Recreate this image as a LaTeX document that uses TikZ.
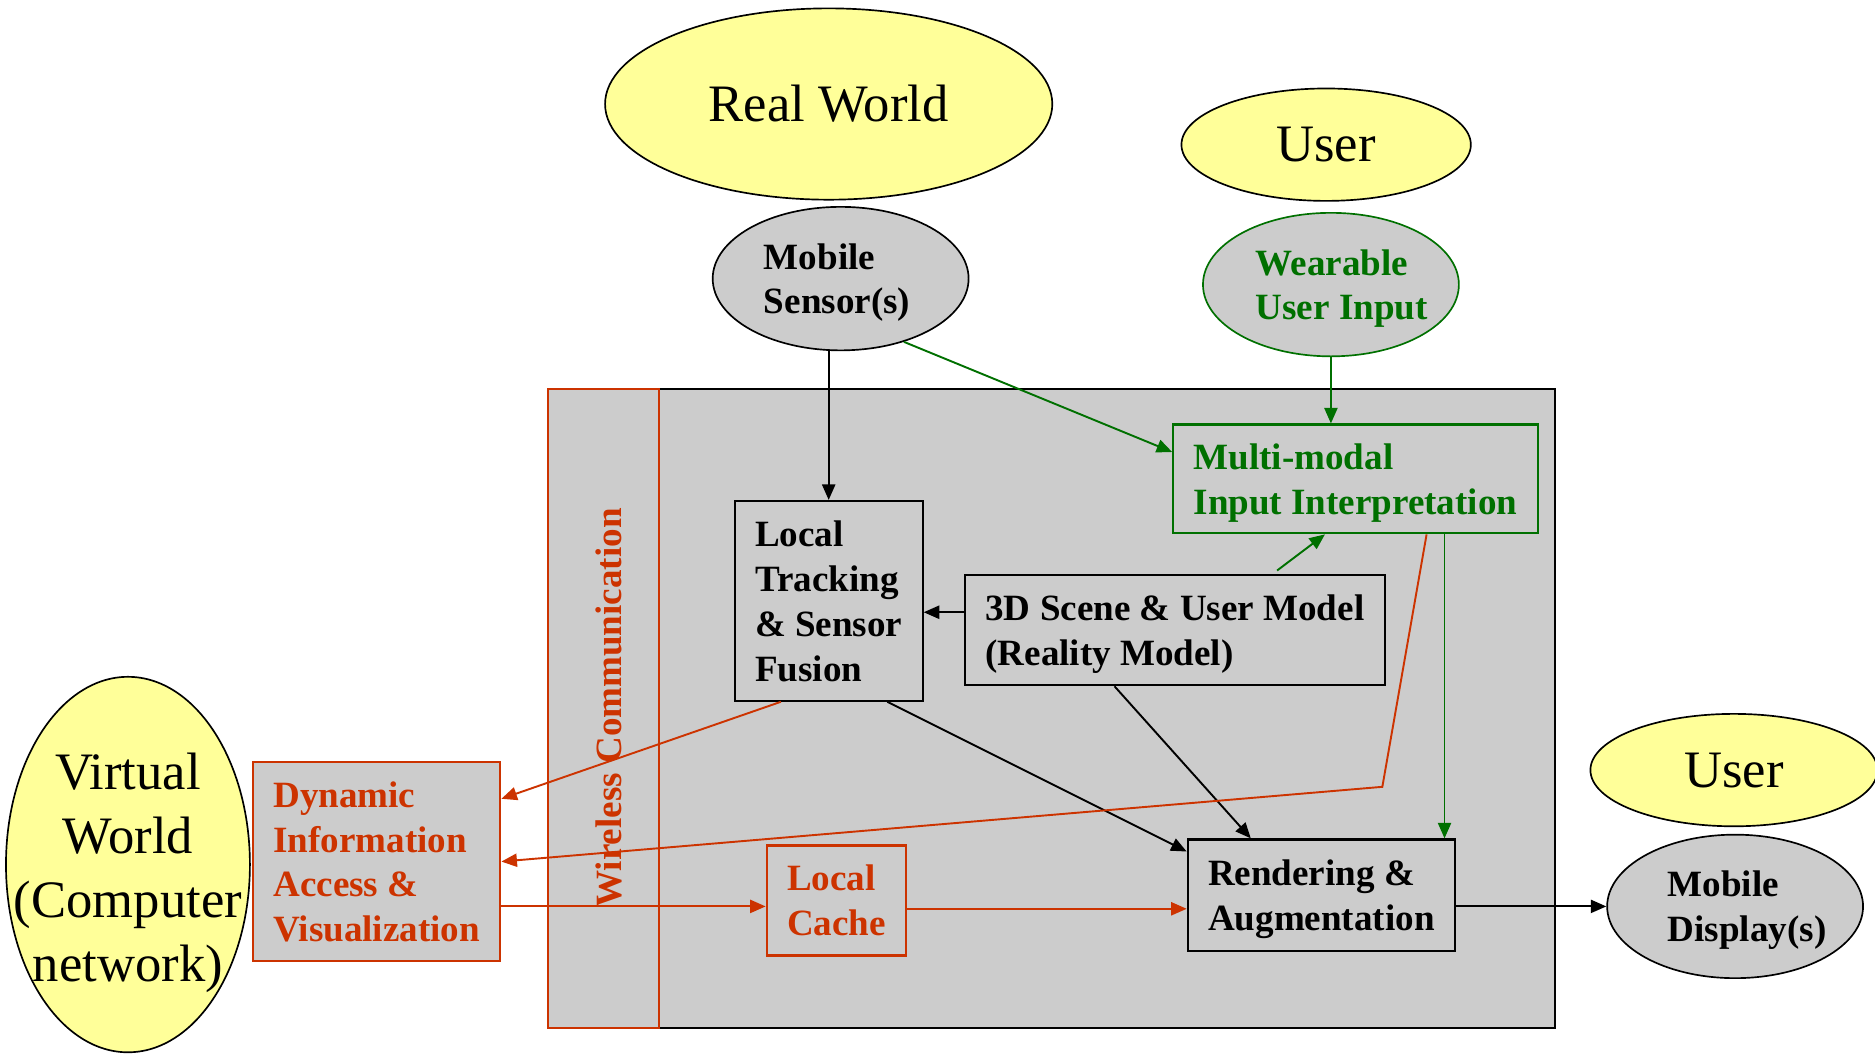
\documentclass[tikz,border=0pt]{standalone}
\usepackage{fontspec}
\setmainfont{Liberation Serif}
\usetikzlibrary{positioning, calc, shapes.geometric, arrows.meta}
\definecolor{dreamyellow}{RGB}{255,255,153}
\definecolor{panelgray}{RGB}{204,204,204}
\definecolor{wirered}{RGB}{204,51,0}
\definecolor{inputgreen}{RGB}{0,112,0}
\newcommand{\bigfont}{\fontsize{22pt}{26.75pt}\selectfont}
\newcommand{\boxfont}{\fontsize{15.5pt}{18.75pt}\selectfont\bfseries}

\begin{document}
\begin{tikzpicture}
		[x=0.5pt, y=-0.5pt,
		 world/.style = {ellipse, draw=black, fill=dreamyellow, inner sep=0pt, font=\bigfont, line width=0.7pt},
		 device/.style = {ellipse, draw=black, fill=panelgray, inner sep=0pt, line width=0.7pt},
		 devtext/.style = {align=left, font=\boxfont, text depth=0pt},
		 procbox/.style = {rectangle, draw=black, fill=panelgray, inner xsep=8.5pt, inner ysep=0pt, text depth=0pt, align=left, font=\boxfont, line width=0.9pt},
		 flow/.style = {-{Triangle[length=6.5pt, width=5.5pt]}, line width=0.8pt}]
		\useasboundingbox (0,0) rectangle (1568,881);
		
		% system panel and wireless strip
		\filldraw[fill=panelgray, draw=black, line width=0.8pt] (551,325) rectangle (1300,860);
		\filldraw[fill=panelgray, draw=wirered, line width=0.8pt] (458,325) rectangle (551,860);
		\node[rotate=90, text=wirered, font=\boxfont] (wlan) at (509,592) {Wireless Communication};
		
		% worlds and users
		\node[world, minimum width=187pt, minimum height=80pt] (real) at (693,87) {Real World};
		\node[world, minimum width=121pt, minimum height=47pt] (user) at (1109,121) {User};
		\node[world, minimum width=102pt, minimum height=157pt,
			label={[align=center, font=\bigfont, yshift=-3.5pt]center:{Virtual\\World\\(Computer\\network)}}] (virtual) at (107,723) {};
		\node[world, minimum width=120pt, minimum height=47pt] (viewer) at (1450,644) {User};
		
		% devices
		\node[device, minimum width=107pt, minimum height=60pt,
			label={[devtext, xshift=-1.5pt]center:{Mobile\\Sensor(s)}}] (sensor) at (703,233) {};
		\node[device, draw=inputgreen, minimum width=107pt, minimum height=60pt,
			label={[devtext, text=inputgreen, xshift=4.5pt]center:{Wearable\\User Input}}] (wearable) at (1113,238) {};
		\node[device, minimum width=107pt, minimum height=60pt,
			label={[devtext, xshift=5pt]center:{Mobile\\Display(s)}}] (display) at (1451,758) {};
		
		% processing boxes
		\node[procbox, minimum height=83.5pt] (tracking) at (693,502.5) {Local\\Tracking\\\& Sensor\\Fusion};
		\node[procbox, minimum height=46pt] (scene) at (982.5,527) {3D Scene \& User Model\\(Reality Model)};
		\node[procbox, draw=inputgreen, text=inputgreen, minimum height=45.5pt] (multimodal) at (1133.5,400.5) {Multi-modal\\Input Interpretation};
		\node[procbox, minimum height=46.5pt] (render) at (1105,748.5) {Rendering \&\\Augmentation};
		\node[procbox, draw=wirered, text=wirered, minimum height=46pt] (cache) at (699.5,753) {Local\\Cache};
		\node[procbox, draw=wirered, text=wirered, minimum height=83.5pt] (dynamic) at (315,720.5) {Dynamic\\Information\\Access \&\\Visualization};
		
		% black flows
		\draw[flow] (tracking.north |- sensor.south) -- (tracking.north);
		\draw[flow] ([yshift=7.5pt]scene.west) -- ([yshift=7.5pt]scene.west -| tracking.east);
		\draw[flow] ([xshift=24.5pt]tracking.south) -- ([yshift=-5.5pt]render.north west);
		\draw[flow] ([xshift=-25.25pt]scene.south) -- ([xshift=-29.5pt]render.north);
		\draw[flow] ([yshift=-4.75pt]render.east) -- ([yshift=-4.75pt]render.east -| display.west);
		
		% green flows
		\draw[flow, inputgreen] (sensor.-45) -- ([yshift=11.25pt]multimodal.west);
		\draw[flow, inputgreen] (wearable.south) -- (wearable.south |- multimodal.north);
		\draw[flow, inputgreen] ([xshift=42.75pt, yshift=1.5pt]scene.north) -- ([xshift=-12.75pt]multimodal.south);
		\draw[flow, inputgreen] ([xshift=37.25pt]multimodal.south) -- ([xshift=37.25pt]multimodal.south |- render.north);
		
		% red flows
		\coordinate (detour) at (1156,658);
		\draw[flow, wirered] ([xshift=29.75pt]multimodal.south) -- (detour) -- (dynamic.east);
		\draw[flow, wirered] ([xshift=-20pt]tracking.south) -- ([yshift=26.25pt]dynamic.east);
		\draw[flow, wirered] ([yshift=-18.75pt]dynamic.east) -- ([yshift=-18.75pt]dynamic.east -| cache.west);
		\draw[flow, wirered] ([yshift=-3.5pt]cache.east) -- ([yshift=-3.5pt]cache.east -| render.west);
	\end{tikzpicture}
\end{document}
